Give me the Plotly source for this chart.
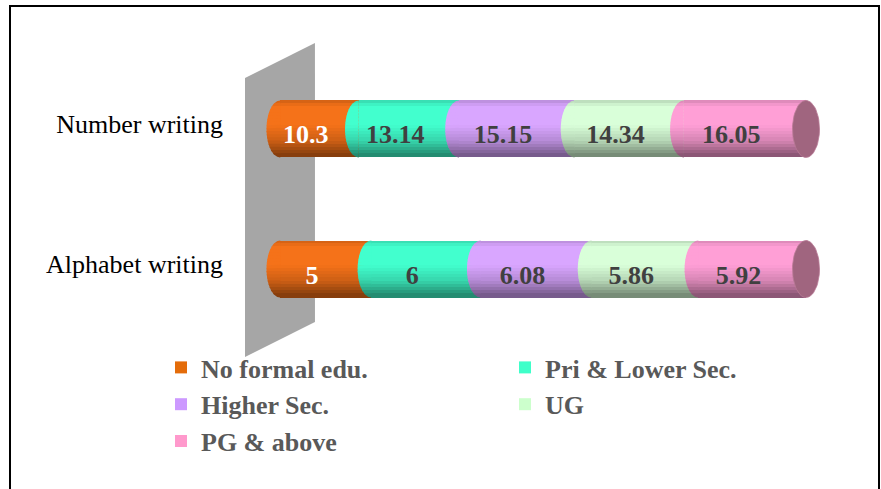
import numpy as np
import plotly.graph_objects as go

# ---- data -----------------------------------------------------------------
categories = ["Alphabet writing", "Number writing"]
levels = ["No formal edu.", "Pri & Lower Sec.", "Higher Sec.", "UG", "PG & above"]
number_writing = [10.3, 13.14, 15.15, 14.34, 16.05]
alphabet_writing = [5, 6, 6.08, 5.86, 5.92]

# ---- styling --------------------------------------------------------------
body_colors = ["#F57219", "#42FFCE", "#D9A6FF", "#D9FFD9", "#FF9FD6"]
legend_colors = ["#E46C0A", "#3FFFC9", "#CC99FF", "#CCFFCC", "#FF99CC"]
label_colors = ["#FFFFFF", "#404040", "#404040", "#404040", "#404040"]
cap_color = "#A0657F"
SERIF = "Liberation Serif, Times New Roman, serif"

W, H = 881, 489
AX_LEFT = 245                 # left edge of the plotting domain, px
PW = W - AX_LEFT              # plot width in px
X_RANGE = [-6.654, 114.26]    # percent scale
Y_RANGE = [-1.571, 1.921]
BAR_H = 0.407                 # bar thickness in y units
N_STRIPS = 18                 # horizontal shading strips per cylinder
px_per_x = PW / (X_RANGE[1] - X_RANGE[0])
px_per_y = H / (Y_RANGE[1] - Y_RANGE[0])
CAP_DX = 13.5 / px_per_x      # half-width of the elliptical ends, x units
LABEL_DY = -8 / px_per_y      # value labels sit slightly below the bar axis

rows = np.array([alphabet_writing, number_writing], dtype=float)
pct = rows / rows.sum(axis=1, keepdims=True) * 100
starts = np.cumsum(pct, axis=1) - pct
ypos = np.arange(len(categories), dtype=float)


def shade(hex_color, t):
    """Cylinder shading: t=0 at the top edge, t=1 at the bottom edge."""
    pts = [(0.0, 0.84), (0.12, 1.0), (0.45, 1.0), (0.72, 0.84), (1.0, 0.52)]
    ts, fs = zip(*pts)
    f = float(np.interp(t, ts, fs))
    r, g, b = (int(hex_color[i:i + 2], 16) for i in (1, 3, 5))
    return "rgb({},{},{})".format(int(r * f), int(g * f), int(b * f))


fig = go.Figure()

strip = BAR_H / N_STRIPS
eps = strip * 0.35

# cylinder bodies, drawn as stacked shading strips
for j in range(len(levels)):
    for k in range(N_STRIPS):
        top = BAR_H / 2 - k * strip
        bottom = top - strip
        t = (k + 0.5) / N_STRIPS
        width = strip + (eps if k > 0 else 0)
        fig.add_trace(go.Bar(
            y=ypos, x=pct[:, j], base=starts[:, j], orientation="h",
            width=width, offset=bottom,
            marker=dict(color=shade(body_colors[j], t), line=dict(width=0)),
            showlegend=False, hoverinfo="skip",
        ))

# rounded left end of every segment (half ellipse bulging to the left)
for j in range(len(levels)):
    for k in range(N_STRIPS):
        top = BAR_H / 2 - k * strip + (eps if k > 0 else 0)
        bottom = BAR_H / 2 - (k + 1) * strip
        t = (k + 0.5) / N_STRIPS
        xs_all, ys_all = [], []
        for r in range(len(categories)):
            x0 = starts[r, j]
            yy = np.linspace(top, bottom, 8)
            xx = x0 - CAP_DX * np.sqrt(np.clip(1 - (2 * yy / BAR_H) ** 2, 0, 1))
            px = [x0 + 0.05] + list(xx) + [x0 + 0.05, x0 + 0.05]
            py = [ypos[r] + top] + list(ypos[r] + yy) + [ypos[r] + bottom, ypos[r] + top]
            xs_all += px + [None]
            ys_all += py + [None]
        fig.add_trace(go.Scatter(
            x=xs_all, y=ys_all, mode="lines", fill="toself",
            fillcolor=shade(body_colors[j], t), line=dict(width=0),
            showlegend=False, hoverinfo="skip",
        ))

# elliptical end face at the right of each cylinder
theta = np.linspace(0, 2 * np.pi, 60)
cap_x, cap_y = [], []
for r in range(len(categories)):
    end = starts[r, -1] + pct[r, -1]
    cap_x += list(end + CAP_DX * np.cos(theta)) + [None]
    cap_y += list(ypos[r] + BAR_H / 2 * np.sin(theta)) + [None]
fig.add_trace(go.Scatter(
    x=cap_x, y=cap_y, mode="lines", fill="toself", fillcolor=cap_color,
    line=dict(width=0.8, color="#B97A96"), showlegend=False, hoverinfo="skip",
))

# value labels, centred on the visible face of each segment
for j in range(len(levels)):
    fig.add_trace(go.Scatter(
        x=starts[:, j] + pct[:, j] / 2 - CAP_DX, y=ypos + LABEL_DY, mode="text",
        text=["{:g}".format(v) for v in rows[:, j]],
        textposition="middle center",
        textfont=dict(family=SERIF, size=26, color=label_colors[j], weight="bold"),
        showlegend=False, hoverinfo="skip",
    ))

# legend entries
for j, name in enumerate(levels):
    fig.add_trace(go.Bar(
        x=[None], y=[None], orientation="h", name=name,
        marker=dict(color=legend_colors[j]), showlegend=True,
    ))


def xp(px):
    return px / W


def yp(py):
    return 1 - py / H


wall = [(245, 78), (315, 43), (315, 322), (245, 357)]
wall_path = "M " + " L ".join("{:.4f},{:.4f}".format(xp(a), yp(b)) for a, b in wall) + " Z"

fig.update_layout(
    template="none",
    width=W, height=H,
    margin=dict(l=0, r=0, t=0, b=0),
    paper_bgcolor="white", plot_bgcolor="white",
    barmode="overlay", bargap=0,
    xaxis=dict(range=X_RANGE, domain=[xp(AX_LEFT), 1], visible=False,
               fixedrange=True, automargin=False),
    yaxis=dict(
        range=Y_RANGE, domain=[0, 1], tickvals=ypos + 5 / px_per_y,
        ticktext=categories,
        showgrid=False, zeroline=False, showline=False, ticks="",
        automargin=False, ticklabelstandoff=21,
        tickfont=dict(family=SERIF, size=26, color="#000000"),
    ),
    legend=dict(
        orientation="h", xref="paper", yref="paper",
        x=xp(161), y=yp(344), xanchor="left", yanchor="top",
        entrywidth=299, traceorder="normal",
        font=dict(family=SERIF, size=26, color="#595959", weight="bold"),
        bgcolor="rgba(0,0,0,0)",
    ),
    shapes=[
        dict(type="path", xref="paper", yref="paper", path=wall_path,
             fillcolor="#A6A6A6", line=dict(width=0), layer="below"),
        dict(type="rect", xref="paper", yref="paper",
             x0=xp(10), x1=xp(879), y0=yp(500), y1=yp(6),
             line=dict(color="#000000", width=2), fillcolor="rgba(0,0,0,0)",
             layer="above"),
    ],
    showlegend=True,
)

fig.write_html("out.html")
